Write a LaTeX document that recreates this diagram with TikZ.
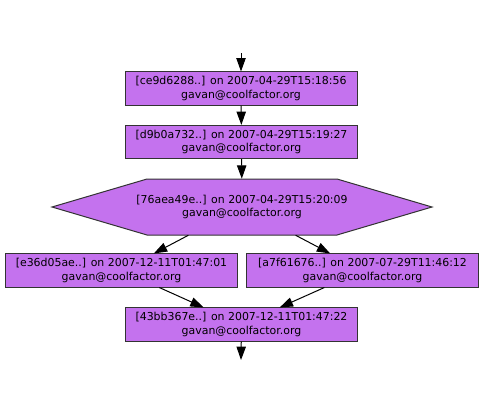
\documentclass[tikz,border=0pt]{standalone}
\usepackage{fontspec}
\setmainfont{DejaVu Sans}
\usetikzlibrary{arrows.meta,positioning}
\definecolor{rev}{RGB}{196,114,238}

\begin{document}
\begin{tikzpicture}[
    x=0.75pt, y=-0.75pt,
    rev/.style={align=center, font=\fontsize{8.2}{9.8}\selectfont, inner sep=0pt},
    outline/.style={draw=black!80, line width=0.75pt, fill=rev},
    revbox/.style={rev, outline, rectangle, minimum width=174pt, minimum height=24.8pt},
    merge/.style={rev, rectangle, minimum width=285pt, minimum height=42pt},
    edge/.style={line width=0.75pt, -{Triangle[length=10pt, width=7pt]}},
  ]
  \useasboundingbox (0,0) rectangle (484,414);

  % revisions, oldest on top
  \node[revbox] (ce9d) at (241,88.5)
    {[ce9d6288..] on 2007-04-29T15:18:56\\gavan@coolfactor.org};
  \node[revbox] (d9b0) at (241.5,142)
    {[d9b0a732..] on 2007-04-29T15:19:27\\gavan@coolfactor.org};

  % merge revision: hexagon
  \draw[outline] (52,207) -- (147,179) -- (337,179) -- (432,207)
    -- (337,235) -- (147,235) -- cycle;
  \node[merge] (76ae) at (242,207)
    {[76aea49e..] on 2007-04-29T15:20:09\\gavan@coolfactor.org};

  \node[revbox] (e36d) at (121.5,270.5)
    {[e36d05ae..] on 2007-12-11T01:47:01\\gavan@coolfactor.org};
  \node[revbox] (a7f6) at (362.5,270.5)
    {[a7f61676..] on 2007-07-29T11:46:12\\gavan@coolfactor.org};
  \node[revbox] (43bb) at (241.5,324.5)
    {[43bb367e..] on 2007-12-11T01:47:22\\gavan@coolfactor.org};

  % loose ends
  \coordinate (in) at (241,53);
  \coordinate (out) at (241,360);

  \draw[edge] (in) -- (ce9d);
  \draw[edge] (ce9d) -- (d9b0);
  \draw[edge] (d9b0) -- (76ae);
  \draw[edge] (76ae) -- (e36d);
  \draw[edge] (76ae) -- (a7f6);
  \draw[edge] (e36d) -- (43bb);
  \draw[edge] (a7f6) -- (43bb);
  \draw[edge] (43bb) -- (out);

\end{tikzpicture}
\end{document}
